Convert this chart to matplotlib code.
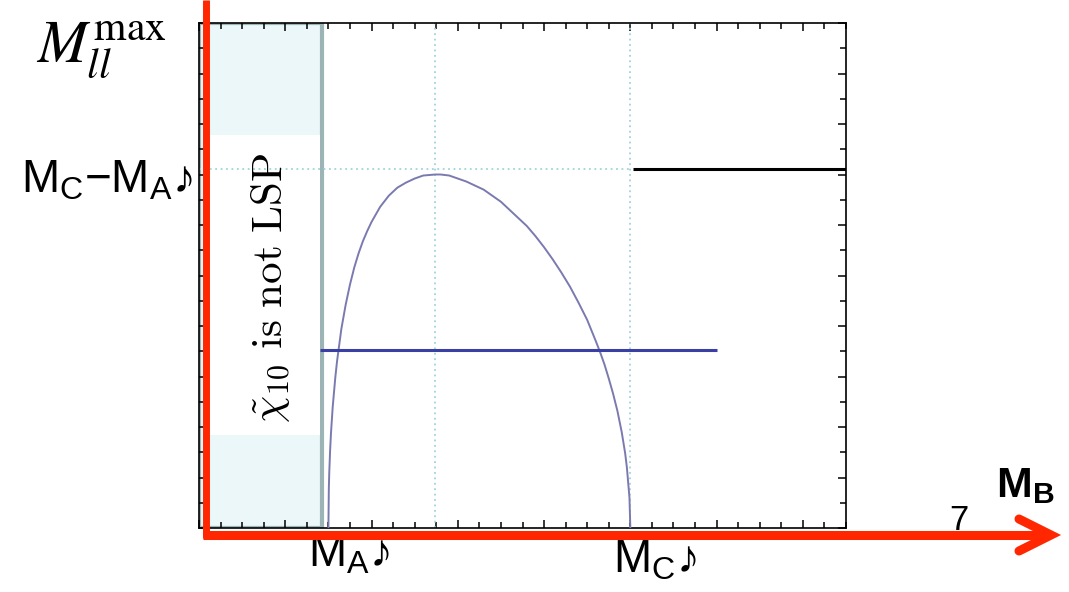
"""
Recria o esboço de M_ll^max em função de M_B (região onde chi_10 não é LSP).
"""
import numpy as np
import matplotlib
matplotlib.use('Agg')
import matplotlib.pyplot as plt
from matplotlib.lines import Line2D
from matplotlib.patches import Rectangle
from matplotlib.transforms import blended_transform_factory
from matplotlib.ticker import MultipleLocator

plt.rcParams['font.family'] = ['Liberation Sans', 'DejaVu Sans']
plt.rcParams['mathtext.fontset'] = 'custom'
plt.rcParams['mathtext.rm'] = 'Liberation Sans'
plt.rcParams['mathtext.it'] = 'Liberation Sans:italic'
plt.rcParams['mathtext.bf'] = 'Liberation Sans:bold'

M_A = 1.5
M_C = 5.0
M_PEAK = 2.74          # posição do máximo da curva
LEVEL = 3.55           # nível M_C - M_A
X_MAX = 7.5
Y_MAX = 5.0

# curva M_ll^max
mb_curve = [1.5, 1.505, 1.51, 1.52, 1.53, 1.55, 1.58, 1.6, 1.65, 1.7, 1.75, 1.8,
            1.85, 1.9, 1.95, 2.0, 2.1, 2.2, 2.3, 2.4, 2.5, 2.6, 2.74, 2.8, 2.9,
            3.0, 3.1, 3.2, 3.3, 3.4, 3.5, 3.6, 3.7, 3.8, 3.9, 4.0, 4.1, 4.2, 4.3,
            4.4, 4.5, 4.6, 4.65, 4.7, 4.75, 4.8, 4.85, 4.9, 4.94, 4.96, 4.99, 5.0]
mll_curve = [0.0, 0.39, 0.55, 0.77, 0.94, 1.20, 1.49, 1.65, 1.97, 2.21, 2.41, 2.58,
             2.72, 2.84, 2.94, 3.03, 3.18, 3.29, 3.37, 3.42, 3.46, 3.49, 3.50, 3.50,
             3.49, 3.46, 3.43, 3.39, 3.35, 3.29, 3.23, 3.15, 3.07, 2.99, 2.89, 2.78,
             2.66, 2.53, 2.39, 2.23, 2.06, 1.85, 1.74, 1.62, 1.48, 1.33, 1.16, 0.95,
             0.74, 0.60, 0.30, 0.0]

# segmentos horizontais
plateau_x = [5.03, 7.5]
plateau_y = [LEVEL, LEVEL]
blue_x = [1.40, 6.0]
blue_y = [1.76, 1.76]

# faixa "chi_10 não é LSP"
shade_x = [0.0, 1.43]
textbox_x = [0.12, 1.40]
textbox_y = [0.92, 3.89]

RED = '#ff2600'
GRID = '#9fd4db'

fig = plt.figure(figsize=(10.69, 5.92), dpi=100)
W, H = 1069, 592
ax = fig.add_axes([199 / W, 64 / H, 647 / W, 505 / H])
ax.set_xlim(0, X_MAX)
ax.set_ylim(0, Y_MAX)

ax.add_patch(Rectangle((shade_x[0], 0), shade_x[1] - shade_x[0], Y_MAX,
                       facecolor='#ebf7f9', edgecolor='#9db4b7', lw=3, zorder=1))
ax.add_patch(Rectangle((textbox_x[0], textbox_y[0]), textbox_x[1] - textbox_x[0],
                       textbox_y[1] - textbox_y[0], facecolor='white', edgecolor='none', zorder=1.5))
ax.text(0.83, 2.38, r'$\tilde{\chi}_{10}\ \mathrm{is\ not\ LSP}$',
        rotation=90, ha='center', va='center', fontsize=31, math_fontfamily='cm', zorder=3)

# linhas pontilhadas de referência
ax.plot([M_PEAK, M_PEAK], [0, Y_MAX], ls=(0, (1, 2)), color=GRID, lw=1.3, zorder=2)
ax.plot([M_C, M_C], [0, Y_MAX], ls=(0, (1, 2)), color=GRID, lw=1.3, zorder=2)
ax.plot([0, M_C], [LEVEL, LEVEL], ls=(0, (1, 2)), color=GRID, lw=1.3, zorder=2)

ax.plot(mb_curve, mll_curve, color='#7a7ab0', lw=1.4, zorder=4)
ax.plot(plateau_x, plateau_y, color='black', lw=2.2, zorder=4, solid_capstyle='butt')
ax.plot(blue_x, blue_y, color='#3a3fa6', lw=2.2, zorder=4, solid_capstyle='butt')

ax.xaxis.set_major_locator(MultipleLocator(1))
ax.xaxis.set_minor_locator(MultipleLocator(0.25))
ax.yaxis.set_major_locator(MultipleLocator(0.5))
ax.yaxis.set_minor_locator(MultipleLocator(0.25))
ax.tick_params(which='both', direction='in', top=True, right=True,
               labelbottom=False, labelleft=False, width=1.1, color='black')
ax.tick_params(which='major', length=6)
ax.tick_params(which='minor', length=4)
for sp in ax.spines.values():
    sp.set_linewidth(1.2)

# rótulos
xt = blended_transform_factory(ax.transData, ax.transAxes)
ax.annotate(r'M$_\mathrm{A}$♪', xy=(M_A, 0), xycoords=xt, xytext=(-20, -4),
            textcoords='offset pixels', ha='left', va='top', fontsize=33, annotation_clip=False)
ax.annotate(r'M$_\mathrm{C}$♪', xy=(M_C, 0), xycoords=xt, xytext=(-17, -11),
            textcoords='offset pixels', ha='left', va='top', fontsize=33, annotation_clip=False)
yt = blended_transform_factory(ax.transAxes, ax.transData)
ax.annotate(r'M$_\mathrm{C}$−M$_\mathrm{A}$♪', xy=(0, LEVEL), xycoords=yt, xytext=(-6, -23),
            textcoords='offset pixels', ha='right', va='baseline', fontsize=33, annotation_clip=False)

fig.text(36 / W, 1 - 63 / H, r'$M_{ll}^{\mathrm{max}}$', fontsize=43, math_fontfamily='stix',
         ha='left', va='baseline')
fig.text(959 / W, 1 - 530 / H, '7', fontsize=25, ha='center', va='baseline')
fig.text(996 / W, 1 - 497 / H, r'M$_\mathbf{B}$', fontsize=31, fontweight='bold',
         ha='left', va='baseline')

# eixos vermelhos desenhados à mão
def px(x, y):
    return x / W, 1 - y / H

fx, fy = zip(px(205.5, 0), px(205.5, 538))
fig.add_artist(Line2D(fx, fy, color=RED, lw=5, solid_capstyle='butt', zorder=10))
fx, fy = zip(px(203, 535), px(1050, 535))
fig.add_artist(Line2D(fx, fy, color=RED, lw=6.5, solid_capstyle='butt', zorder=10))
fx, fy = zip(px(1019, 519), px(1051, 535), px(1019, 551))
fig.add_artist(Line2D(fx, fy, color=RED, lw=6.5, solid_capstyle='round',
                      solid_joinstyle='miter', zorder=10))

fig.savefig('out.png', dpi=100)
